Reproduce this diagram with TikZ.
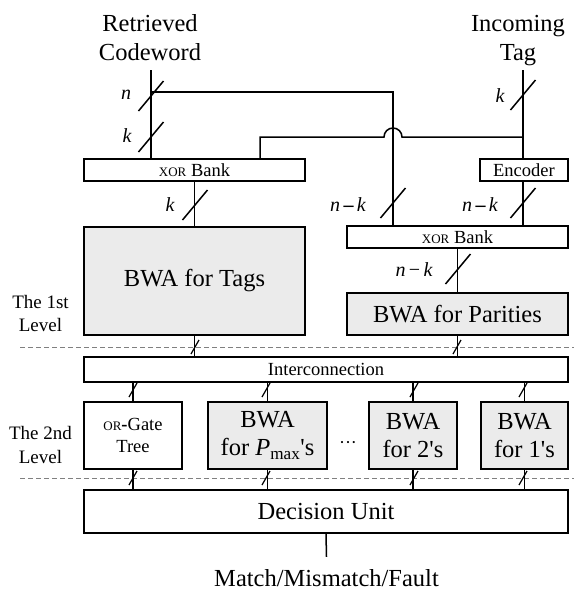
\documentclass[tikz,border=0pt]{standalone}
\usepackage{fontspec}
\setmainfont{Liberation Serif}
\newfontfamily\tnr{Liberation Serif}
\usetikzlibrary{calc}
\newcommand{\smc}[1]{{\fontsize{13}{13}\selectfont #1}}
\begin{document}
\begin{tikzpicture}[x=1pt,y=-1pt,
  blk/.style={draw, line width=1.7pt, inner sep=0pt, align=center, font=\tnr\fontsize{24.5}{28}\selectfont},
  sblk/.style={blk, font=\tnr\fontsize{18.5}{22}\selectfont},
  bwa/.style={blk, fill=black!8},
  wire/.style={line width=1.5pt},
  sepline/.style={gray, line width=0.9pt, dash pattern=on 5pt off 3pt},
  lbl/.style={font=\tnr\fontsize{20}{24}\selectfont\itshape, inner sep=0pt},
  ttl/.style={align=center, inner sep=0pt, font=\tnr\fontsize{24.5}{28.5}\selectfont},
  lvl/.style={align=center, inner sep=0pt, font=\tnr\fontsize{19}{23.5}\selectfont},
]
\useasboundingbox (0,0) rectangle (574,590);

% titles
\node[ttl] (rc) at (150,37.6) {Retrieved\\Codeword};
\node[ttl] (it) at (518,40.3) {Incoming\\Tag};
\coordinate (rcin) at (151,70);
\coordinate (itin) at (523,70);

% first-level blocks
\node[sblk, minimum width=221, minimum height=22] (xorL) at (194.5,170) {\smc{XOR} Bank};
\node[sblk, minimum width=88, minimum height=22] (enc) at (524,170) {Encoder};
\node[bwa, minimum width=221, minimum height=108] (tags) at (194.5,281) {BWA for Tags};
\node[sblk, minimum width=221, minimum height=22] (xorR) at (457.5,237) {\smc{XOR} Bank};
\node[bwa, minimum width=221, minimum height=42] (par) at (457.5,314) {BWA for Parities};

% interconnection and second level
\node[sblk, minimum width=484, minimum height=25] (inter) at (326,369.5) {Interconnection};
\node[sblk, minimum width=98, minimum height=67] (ort) at (133,435.5) {\smc{OR}\textbf{-}Gate\\Tree};
\node[bwa, minimum width=119, minimum height=67] (pmax) at (267.5,435.5) {BWA\\for \textit{P}\textsubscript{max}\textquotesingle s};
\node[bwa, minimum width=88, minimum height=67] (two) at (413,435.5) {BWA\\for 2\textquotesingle s};
\node[bwa, minimum width=87, minimum height=67] (one) at (524.5,435.5) {BWA\\for 1\textquotesingle s};
\node[inner sep=0pt, font=\tnr\fontsize{18}{18}\selectfont] (dots) at (348,445) {\textperiodcentered\textperiodcentered\textperiodcentered};
\node[blk, minimum width=484, minimum height=43] (dec) at (326,511.5) {Decision Unit};
\node[anchor=base, inner sep=0pt, font=\tnr\fontsize{24.5}{28}\selectfont] (out) at (326.5,586) {Match/Mismatch/Fault};

% level labels
\node[lvl] (l1) at (40.5,313.5) {The 1st\\Level};
\node[lvl] (l2) at (40.5,445) {The 2nd\\Level};
\draw[sepline] (20,347) -- (574,347);
\draw[sepline] (20,478) -- (574,478);

% junctions
\coordinate (ja) at (151,92);
\coordinate (jb) at (393,92);
\coordinate (jc) at (260,137);
\coordinate (jd) at (523,137);

% top wiring
\draw[wire] (rcin) -- (xorL.north -| rcin);
\draw[wire] (ja) -- (jb) -- (xorR.north -| jb);
\draw[wire] (xorL.north -| jc) -- (jc) -- (384,137) arc[start angle=180, end angle=0, radius=9pt] -- (jd);
\draw[wire] (itin) -- (enc.north -| itin);
\draw[wire] (xorL.south) -- (tags.north);
\draw[wire] (enc.south -| itin) -- (xorR.north -| itin);
\draw[wire] (xorR.south) -- (par.north);
\draw[wire] (tags.south) -- (inter.north -| tags.south);
\draw[wire] (par.south) -- (inter.north -| par.south);
\foreach \b in {ort,pmax,two,one}{
  \draw[wire] (inter.south -| \b.north) -- (\b.north);
  \draw[wire] (\b.south) -- (dec.north -| \b.south);
}
\draw[wire] (dec.south) -- ([yshift=12pt]out.north);

% bus slashes (large)
\foreach \p in {(151,96),(151,137),(195,205),(393,203),(523,203),(458,269),(523,95)}{
  \draw[wire] \p ++(-12.5,15) -- ++(25,-30);
}
% bus slashes (small)
\foreach \p in {(195,347),(457,347),(133,390),(266,390),(414,390),(523,390),(133,478),(266,478),(414,478),(523,478)}{
  \draw[line width=1.2pt] \p ++(-4,7) -- ++(8,-14);
}

% bus labels
\node[lbl] (ln1) at (126,95) {n};
\node[lbl] (lk1) at (127,136) {k};
\node[lbl] (lk2) at (170,205) {k};
\node[lbl] (lk3) at (500,96) {k};
\node[lbl] (lnk1) at (348,205) {n\,\textbf{\upshape –}\,k};
\node[lbl] (lnk2) at (480,205) {n\,\textbf{\upshape –}\,k};
\node[lbl] (lnk3) at (414,270) {n\,{\upshape −}\,k};
\end{tikzpicture}
\end{document}
